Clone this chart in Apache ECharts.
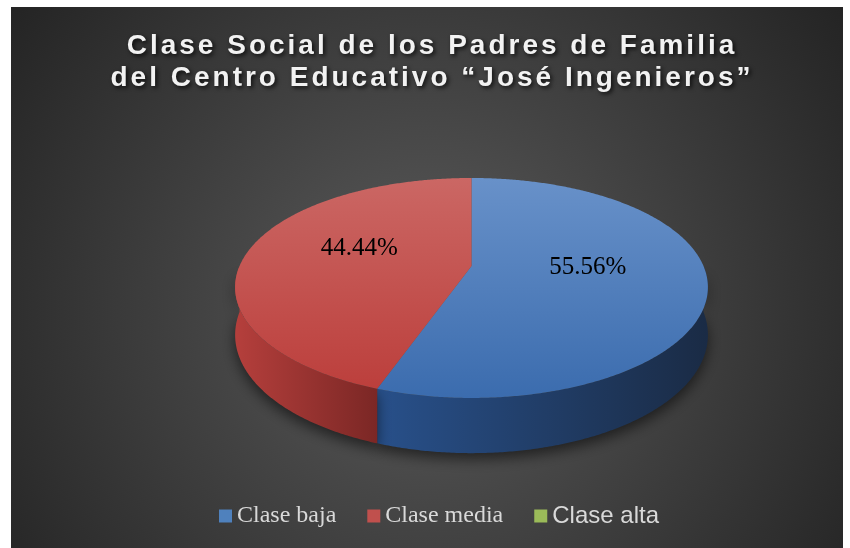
<!DOCTYPE html>
<html>
<head>
<meta charset="utf-8">
<script src="https://cdn.jsdelivr.net/npm/echarts@6/dist/echarts.min.js"></script>
<style>
html, body { margin: 0; padding: 0; background: #ffffff; }
#wrap { position: absolute; left: 11px; top: 7px; width: 832px; height: 541px; }
#main, #ttl { position: absolute; left: 0; top: 0; width: 832px; height: 541px; }
#ttl { left: 5px; pointer-events: none; }
#ttl text, #ttl tspan { letter-spacing: 3px; }
#ttl svg { filter: drop-shadow(2px 2px 2px rgba(0,0,0,0.75)); }
</style>
</head>
<body>
<div id="wrap"><div id="main"></div><div id="ttl"></div></div>
<script>
// ---- data ----
const titleLines = ['Clase Social de los Padres de Familia', 'del Centro Educativo “José Ingenieros”'];
const categories = ['Clase baja', 'Clase media', 'Clase alta'];
const values = [55.56, 44.44, 0];

// ---- styles (kept apart from data) ----
const legendColors = ['#4f81bd', '#c0504d', '#9bbb59'];
const topGradients = [
  ['#6891c9', '#3b6cae'],
  ['#cb6764', '#bc3f3c'],
  ['#b5d07a', '#8fb04c']
];
const sideGradients = [
  ['#28508a', '#1a2b45'],
  ['#b53f3c', '#7b2725'],
  ['#86a34a', '#5e7433']
];
const legendFonts = ['Liberation Serif', 'Liberation Serif', 'Liberation Sans'];

const total = values.reduce((a, b) => a + b, 0);
const starts = [];
let acc = 0;
values.forEach(v => { starts.push(acc / total); acc += v; });

function lin(x2, y2, c) {
  return { type: 'linear', x: 0, y: 0, x2: x2, y2: y2,
    colorStops: [{ offset: 0, color: c[0] }, { offset: 1, color: c[1] }] };
}

function makeRenderItem(idx) {
  return function (params, api) {
    const W = api.getWidth(), H = api.getHeight();
    const cx = W * 0.5535, cy = H * 0.4787, rx = W * 0.2788, ry = H * 0.2033, depth = H * 0.085;
    const persp = 0.2;
    const a0 = api.value(0) * 2 * Math.PI, a1 = api.value(1) * 2 * Math.PI;
    const children = [];
    if (a1 - a0 <= 1e-9) return { type: 'group', children: children };
    const scl = (t, f) => 1 - persp * f * Math.cos(t);
    const pt = (t, f) => {
      const s = scl(t, f);
      return [cx + f * rx * Math.sin(t) * s, cy - f * ry * Math.cos(t) * s];
    };
    const step = Math.PI / 360;
    // side (front visible part)
    const s0 = Math.max(a0, Math.PI / 2), s1 = Math.min(a1, 3 * Math.PI / 2);
    if (s1 > s0) {
      const m = Math.max(2, Math.ceil((s1 - s0) / step));
      const up = [], dn = [];
      for (let i = 0; i <= m; i++) {
        const t = s0 + (s1 - s0) * i / m;
        const p = pt(t, 1);
        up.push(p); dn.push([p[0], p[1] + depth * scl(t, 1)]);
      }
      children.push({
        type: 'polygon', z2: 1,
        shape: { points: up.concat(dn.reverse()) },
        style: { fill: lin(1, 0, sideGradients[idx]), shadowBlur: 14, shadowColor: 'rgba(0,0,0,0.55)', shadowOffsetY: 6 }
      });
    }
    // top face
    const n = Math.max(2, Math.ceil((a1 - a0) / step));
    const topPts = [[cx, cy]];
    for (let i = 0; i <= n; i++) topPts.push(pt(a0 + (a1 - a0) * i / n, 1));
    children.push({
      type: 'polygon', z2: 2,
      shape: { points: topPts },
      style: { fill: lin(0, 1, topGradients[idx]) }
    });
    // label
    const mid = (a0 + a1) / 2;
    const lp = pt(mid, 0.5);
    children.push({
      type: 'text', z2: 3, x: lp[0], y: lp[1] - H * 0.015,
      style: {
        text: (api.value(2)).toFixed(2) + '%',
        fill: '#000000', font: '25px "Liberation Serif"',
        align: 'center', verticalAlign: 'middle'
      }
    });
    return { type: 'group', children: children };
  };
}

const series = categories.map((name, i) => ({
  type: 'custom',
  name: name,
  coordinateSystem: 'none',
  itemStyle: { color: legendColors[i] },
  renderItem: makeRenderItem(i),
  data: [[starts[i], starts[i] + values[i] / total, values[i] / total * 100]]
}));

const chart = echarts.init(document.getElementById('main'), null, { renderer: 'canvas' });
chart.setOption({
  animation: false,
  backgroundColor: {
    type: 'radial', x: 0.5, y: 0.56, r: 0.95,
    colorStops: [{ offset: 0, color: '#5b5b5b' }, { offset: 1, color: '#242424' }]
  },
  legend: {
    left: 203, top: 492,
    icon: 'rect', itemWidth: 13, itemHeight: 13, itemGap: 31,
    selectedMode: false,
    textStyle: { color: '#d9d9d9', fontSize: 24, fontFamily: 'Liberation Serif' },
    data: categories.map((c, i) => ({ name: c, textStyle: { fontFamily: legendFonts[i] } }))
  },
  series: series
});

// title layer (SVG so that CSS letter-spacing applies to the text)
const tChart = echarts.init(document.getElementById('ttl'), null, { renderer: 'svg' });
tChart.setOption({
  animation: false,
  title: {
    text: titleLines.join('\n'),
    left: 'center', top: 16,
    textStyle: {
      color: '#f2f2f2', fontSize: 28, fontWeight: 'bold', fontFamily: 'Liberation Sans',
      lineHeight: 32
    }
  }
});
</script>
</body>
</html>
